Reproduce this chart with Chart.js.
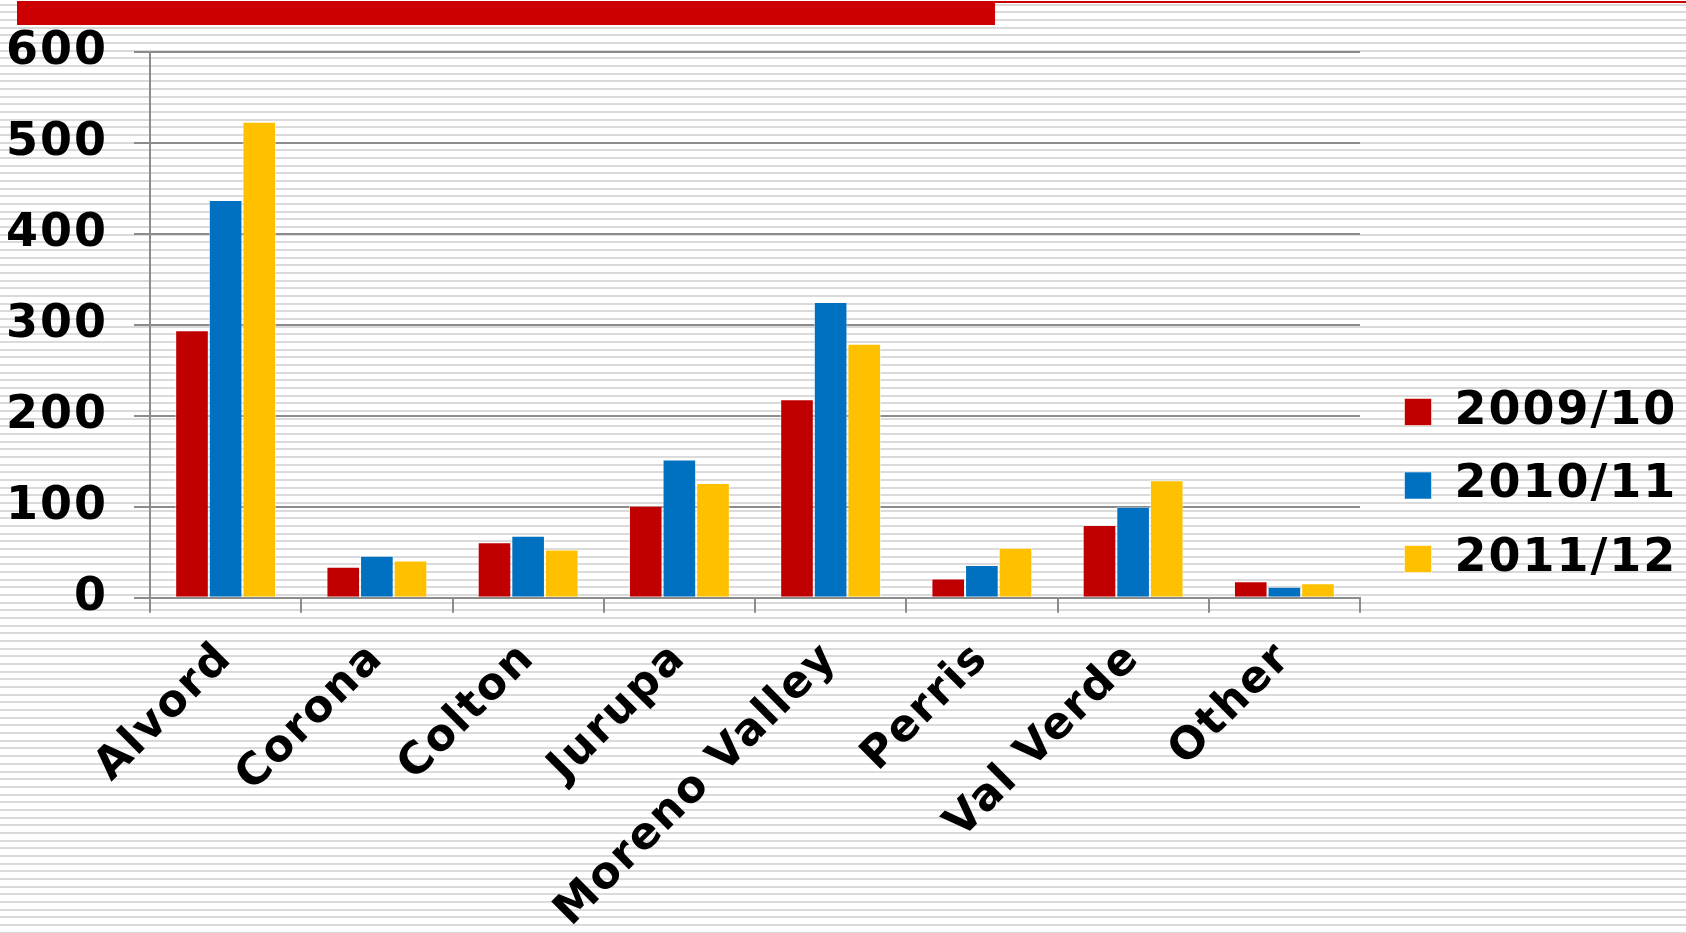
<!DOCTYPE html>
<html lang="en">
<head>
<meta charset="utf-8">
<title>Students by district</title>
<script src="https://cdn.jsdelivr.net/npm/chart.js@4.4.0/dist/chart.umd.min.js"></script>
<style>
    html, body { margin: 0; padding: 0; }
    body {
        width: 1686px;
        height: 933px;
        overflow: hidden;
        position: relative;
        background: repeating-linear-gradient(to bottom,
            #ffffff 0px, #ffffff 3.5px,
            #dadada 3.5px, #dadada 5.5px,
            #ffffff 5.5px, #ffffff 7.67px);
    }
    .top-bar { position: absolute; left: 17px; top: 1px; width: 978px; height: 24px; background: #cc0000; }
    .top-line { position: absolute; left: 995px; top: 1px; right: 0; height: 2px; background: #cc0000; }
    #chart-wrap { position: absolute; left: 0; top: 0; width: 1686px; height: 933px; }
</style>
</head>
<body>
<div class="top-bar"></div>
<div class="top-line"></div>
<div id="chart-wrap"><canvas id="district-chart" width="1686" height="933"></canvas></div>
<script>
const districts = ['Alvord', 'Corona', 'Colton', 'Jurupa', 'Moreno Valley', 'Perris', 'Val Verde', 'Other'];
const years = ['2009/10', '2010/11', '2011/12'];
const students0910 = [294, 34, 61, 101, 218, 21, 80, 18];
const students1011 = [437, 46, 68, 152, 325, 36, 100, 12];
const students1112 = [523, 41, 53, 126, 279, 55, 129, 16];
const yTicks = [0, 100, 200, 300, 400, 500, 600];

const seriesColors = ['#c00000', '#0070c0', '#ffc000'];
const axisGray = '#8c8c8c';
const fontFamily = '"DejaVu Sans", Verdana, sans-serif';
const LETTER_SPACING = '2px';

// plot box: left 150, right 1360, top 51.7, bottom 597.7
const PLOT_TOP = 51.7;
const Y_AXIS_WIDTH = 150;
const X_AXIS_HEIGHT = 933 - 597.7;
const LEGEND_WIDTH = 326;
const LEGEND_LEFT = 1377;
const LEGEND_TOP = 361.5;

// a little extra tracking so the bold labels come out Verdana-wide
const wideText = {
    id: 'wideText',
    beforeUpdate(chart) { chart.ctx.letterSpacing = LETTER_SPACING; },
    beforeDraw(chart) { chart.ctx.letterSpacing = LETTER_SPACING; }
};

// keeps the legend a fixed width and moves it where it belongs
const fixedLegend = {
    id: 'fixedLegend',
    beforeLayout(chart) {
        const legend = chart.legend;
        if (legend && !legend._fixedWidth) {
            const fit = legend.fit;
            legend.fit = function () {
                fit.call(this);
                this.width = LEGEND_WIDTH;
            };
            legend._fixedWidth = true;
        }
    },
    afterLayout(chart) {
        const legend = chart.legend;
        if (!legend) return;
        const w = legend.width;
        const h = legend.height;
        legend.left = LEGEND_LEFT;
        legend.right = LEGEND_LEFT + w;
        legend.top = LEGEND_TOP;
        legend.bottom = LEGEND_TOP + h;
    }
};

const seriesValues = [students0910, students1011, students1112];

const datasets = years.map((year, i) => ({
    label: year,
    data: seriesValues[i],
    backgroundColor: seriesColors[i],
    borderColor: 'rgba(255,255,255,0.55)',
    borderWidth: 1,
    categoryPercentage: 0.667,
    barPercentage: 1
}));

const ctx = document.getElementById('district-chart');

new Chart(ctx, {
    type: 'bar',
    data: { labels: districts, datasets: datasets },
    plugins: [wideText, fixedLegend],
    options: {
        responsive: false,
        animation: false,
        devicePixelRatio: 1,
        layout: { padding: { top: PLOT_TOP, left: 0, right: 0, bottom: 0 } },
        plugins: {
            tooltip: { enabled: false },
            legend: {
                position: 'right',
                align: 'start',
                labels: {
                    color: '#000',
                    boxWidth: 27,
                    boxHeight: 27,
                    padding: 27.5,
                    font: { family: fontFamily, size: 46, weight: 'bold' }
                }
            }
        },
        scales: {
            x: {
                grid: {
                    drawOnChartArea: false,
                    drawTicks: true,
                    tickLength: 15,
                    color: axisGray,
                    lineWidth: 2
                },
                border: { color: axisGray, width: 2 },
                ticks: {
                    color: '#000',
                    autoSkip: false,
                    minRotation: 45,
                    maxRotation: 45,
                    padding: 20,
                    font: { family: fontFamily, size: 44, weight: 'bold' }
                },
                afterFit(scale) { scale.height = X_AXIS_HEIGHT; }
            },
            y: {
                min: yTicks[0],
                max: yTicks[yTicks.length - 1],
                grid: {
                    color: axisGray,
                    lineWidth: 2,
                    tickLength: 16
                },
                border: { color: axisGray, width: 2 },
                ticks: {
                    stepSize: yTicks[1] - yTicks[0],
                    color: '#000',
                    padding: 26,
                    font: { family: fontFamily, size: 46, weight: 'bold' }
                },
                afterFit(scale) {
                    scale.width = Y_AXIS_WIDTH;
                    scale.paddingTop = 0;
                    scale.paddingBottom = 0;
                }
            }
        }
    }
});
</script>
</body>
</html>
